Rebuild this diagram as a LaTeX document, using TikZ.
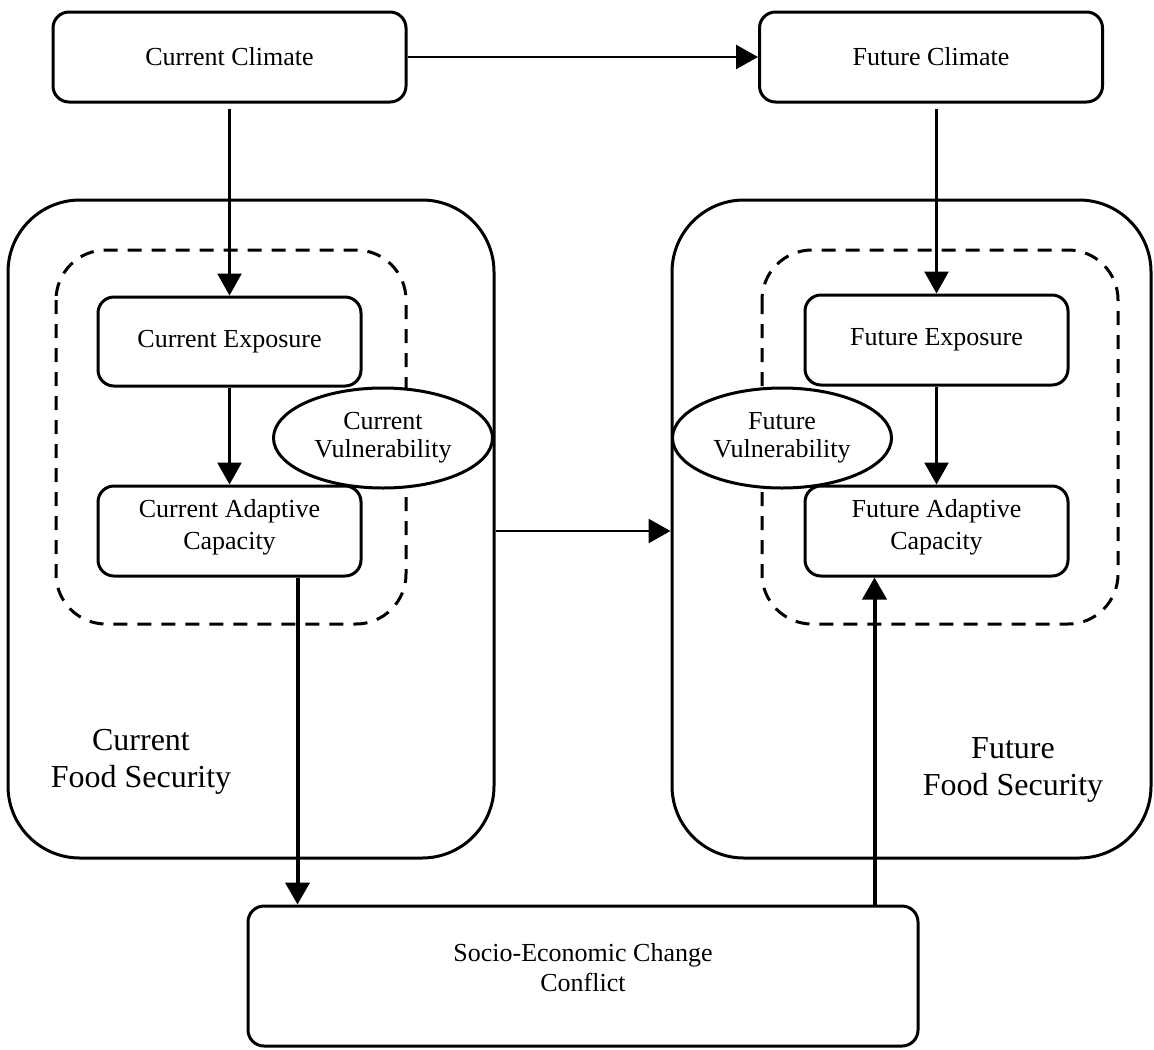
\documentclass[tikz,border=0pt]{standalone}
\usepackage{fontspec}
\setmainfont{Liberation Serif}
\usepackage{tikz}
\usetikzlibrary{arrows.meta,positioning,shapes.geometric,calc}
\tikzset{
  card/.style={draw=black,fill=white,line width=1.5pt,rounded corners=8pt,
               align=center,inner sep=2pt,
               font=\fontsize{13}{16}\selectfont},
  vulnoval/.style={ellipse,draw=black,fill=white,line width=1.5pt,
                   minimum width=109.5pt,minimum height=50pt,inner sep=0pt,
                   align=center,font=\fontsize{13}{14}\selectfont},
  panel/.style={draw=black,fill=white,line width=1.5pt,rounded corners=36pt},
  dashpanel/.style={draw=black,line width=1.5pt,dash pattern=on 7pt off 5pt,
                    rounded corners=25pt},
  fslabel/.style={align=center,font=\fontsize{16}{18.5}\selectfont},
  arr/.style={-{Triangle[length=11pt,width=12pt]},line width=1.3pt},
  thickarr/.style={-{Triangle[length=11pt,width=12pt]},line width=2pt}
}
\begin{document}
\begin{tikzpicture}[x=0.5pt,y=-0.5pt]
  \useasboundingbox (0,0) rectangle (1154,1049);
  % food security panels
  \node[panel,minimum width=243pt,minimum height=329pt] (curfs) at (251,529) {};
  \node[panel,minimum width=239.5pt,minimum height=329pt] (futfs) at (911.5,529) {};
  \node[fslabel] (curfslab) at (141,762) {Current\\Food Security};
  \node[fslabel] (futfslab) at (1013,770) {Future\\Food Security};
  \draw[dashpanel] (56,250) rectangle (406,624);
  \draw[dashpanel] (762,250) rectangle (1118,624);
  % climate row
  \node[card,minimum width=176.5pt,minimum height=45pt] (curclim) at (229.5,57)
    {Current Climate};
  \node[card,minimum width=171.5pt,minimum height=45pt] (futclim) at (931,57)
    {Future Climate};
  % exposure and capacity
  \node[card,minimum width=131.5pt,minimum height=44.5pt] (curexp) at (229.5,341.5)
    {Current Exposure};
  \node[card,minimum width=131.5pt,minimum height=45pt] (curadapt) at (229.5,531)
    {Current Adaptive\\Capacity\\[-9pt]};
  \node[card,minimum width=131.5pt,minimum height=45pt] (futexp) at (936.5,340)
    {Future Exposure};
  \node[card,minimum width=131.5pt,minimum height=45pt] (futadapt) at (936.5,531)
    {Future Adaptive\\Capacity\\[-9pt]};
  \node[vulnoval] (curvul) at (383,438) {Current\\Vulnerability};
  \node[vulnoval] (futvul) at (782,438) {Future\\Vulnerability};
  % socio-economic
  \node[card,minimum width=335pt,minimum height=70pt,
        font=\fontsize{13}{15}\selectfont] (socio) at (583,976)
    {Socio-Economic Change\\Conflict\\[-6pt]};
  % connectors
  \draw[arr] (curclim.east) -- (futclim.west);
  \draw[arr] ([yshift=-2.5pt]curclim.south) -- (curexp.north);
  \draw[arr] ([yshift=-2.5pt]futclim.south -| futexp.north) -- (futexp.north);
  \draw[arr] (curexp.south) -- (curadapt.north);
  \draw[arr] (futexp.south) -- (futadapt.north);
  \draw[arr] (curfs.east |- curadapt) -- (futfs.west |- curadapt);
  \draw[thickarr] ([xshift=34pt]curadapt.south) -- ([xshift=34pt]curadapt.south |- socio.north);
  \draw[thickarr] ([xshift=-31pt]futadapt.south |- socio.north) -- ([xshift=-31pt]futadapt.south);
\end{tikzpicture}
\end{document}
